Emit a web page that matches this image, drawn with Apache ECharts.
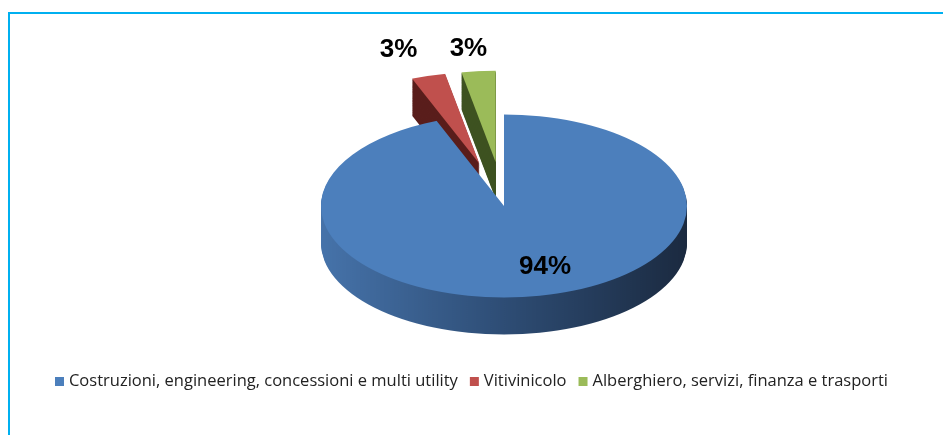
<!DOCTYPE html>
<html>
<head>
    <meta charset="utf-8">
    <script src="https://cdn.jsdelivr.net/npm/echarts@6/dist/echarts.min.js"></script>
    <style>
        body { margin: 0; background: #fff; }
        #wrap { position: relative; width: 943px; height: 435px; overflow: hidden; }
        #frame { position: absolute; left: 8px; top: 12px; width: 1000px; height: 500px;
                 border-top: 2px solid #00B0F0; border-left: 2px solid #00B0F0; }
        /* the pie is drawn round and squashed to get the tilted look */
        #pie { position: absolute; left: 0; top: 0; width: 943px; height: 870px;
               transform: scaleY(0.5); transform-origin: 0 0; }
        #over { position: absolute; left: 0; top: 0; width: 943px; height: 435px; }
    </style>
</head>
<body>
<div id="wrap">
    <div id="frame"></div>
    <div id="pie"></div>
    <div id="over"></div>
</div>
<script type="text/javascript">

var categories = ['Costruzioni, engineering, concessioni e multi utility', 'Vitivinicolo', 'Alberghiero, servizi, finanza e trasporti'];
var values = [94, 3, 3];
var labels = ['94%', '3%', '3%'];
var exploded = [false, true, true];

var topColors = ['#4C7FBC', '#C0504D', '#9BBB59'];
var sideColors = [
    new echarts.graphic.LinearGradient(0, 0, 1, 0, [
        { offset: 0, color: '#4673AA' },
        { offset: 0.5, color: '#2E4D75' },
        { offset: 1, color: '#1B2A40' }
    ]),
    '#5A1E1C',
    '#3F5322'
];

// pie geometry before the vertical squash
var cx = 504, cy = 412, r = 183, depth = 74, layers = 40;

function pieData(colors) {
    return categories.map(function (name, i) {
        return { name: name, value: values[i], selected: exploded[i], itemStyle: { color: colors[i] } };
    });
}

function pieLayer(yc, colors) {
    return {
        type: 'pie',
        center: [cx, yc],
        radius: r,
        startAngle: 90,
        clockwise: true,
        selectedMode: 'multiple',
        selectedOffset: 88,
        silent: true,
        animation: false,
        label: { show: false },
        labelLine: { show: false },
        emphasis: { disabled: true },
        data: pieData(colors)
    };
}

var pieSeries = [];
for (var k = 0; k < layers; k++) {
    pieSeries.push(pieLayer(cy + depth * (1 - k / layers), sideColors));
}
pieSeries.push(pieLayer(cy, topColors));

var pieChart = echarts.init(document.getElementById('pie'));
pieChart.setOption({ animation: false, series: pieSeries });

// labels and legend, drawn without the squash
var labelShift = [[32, 13], [-92, -110], [-31, -109]];
var overChart = echarts.init(document.getElementById('over'));
overChart.setOption({
    animation: false,
    legend: {
        bottom: 40,
        left: 'center',
        icon: 'rect',
        itemWidth: 9,
        itemHeight: 9,
        itemGap: 12,
        selectedMode: false,
        textStyle: { fontFamily: 'Open Sans', fontSize: 16.5, color: '#222' },
        data: categories.map(function (name, i) {
            return { name: name, itemStyle: { color: topColors[i], opacity: 1 } };
        })
    },
    series: [{
        type: 'pie',
        center: [504, 206],
        radius: 91,
        startAngle: 90,
        clockwise: true,
        silent: true,
        avoidLabelOverlap: false,
        itemStyle: { color: 'rgba(0,0,0,0)' },
        label: {
            show: true,
            position: 'inside',
            formatter: function (p) { return labels[p.dataIndex]; },
            fontFamily: 'Liberation Sans',
            fontWeight: 'bold',
            fontSize: 26,
            color: '#000',
            opacity: 1
        },
        labelLine: { show: false },
        labelLayout: function (p) {
            return { dx: labelShift[p.dataIndex][0], dy: labelShift[p.dataIndex][1], hideOverlap: false };
        },
        data: categories.map(function (name, i) {
            return { name: name, value: values[i] };
        })
    }]
});

</script>
</body>
</html>
